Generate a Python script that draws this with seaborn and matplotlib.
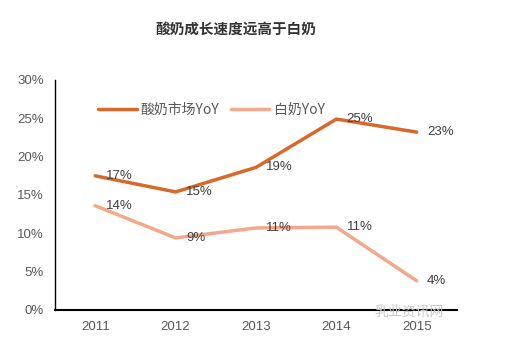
import pandas as pd
import seaborn as sns
import matplotlib.pyplot as plt
from matplotlib.ticker import PercentFormatter

years = ['2011', '2012', '2013', '2014', '2015']
yogurt = [17.5, 15.4, 18.6, 24.9, 23.2]
white_milk = [13.6, 9.4, 10.7, 10.8, 3.8]
yogurt_labels = ['17%', '15%', '19%', '25%', '23%']
white_labels = ['14%', '9%', '11%', '11%', '4%']
series_names = ['酸奶市场YoY', '白奶YoY']

sns.set_style('white')
plt.rcParams['font.family'] = ['Noto Sans CJK SC', 'DejaVu Sans']

df = pd.DataFrame({
    'year': years * 2,
    'value': yogurt + white_milk,
    'series': [series_names[0]] * 5 + [series_names[1]] * 5,
})
df['x'] = list(range(5)) * 2

fig = plt.figure(figsize=(5.24, 3.61), dpi=100)
ax = fig.add_axes([0.105, 0.1413, 0.767, 0.6371])

palette = {series_names[0]: '#D7692A', series_names[1]: '#F2A88A'}
sns.lineplot(data=df, x='x', y='value', hue='series', palette=palette,
             linewidth=2.5, ax=ax, sort=False)

for i in range(5):
    ax.text(i + 0.13, yogurt[i], yogurt_labels[i], fontsize=9.5, color='#404040',
            va='center', family='Liberation Sans')
    ax.text(i + 0.13, white_milk[i], white_labels[i], fontsize=9.5, color='#404040',
            va='center', family='Liberation Sans')

ax.set_xlim(-0.5, 4.5)
ax.set_ylim(0, 30)
ax.set_yticks(range(0, 31, 5))
ax.yaxis.set_major_formatter(PercentFormatter(decimals=0))
ax.set_xticks([i + 0.5 for i in range(-1, 5)], minor=False)
ax.set_xticklabels([])
ax.set_xticks(range(5), minor=True)
ax.set_xticklabels(years, minor=True)
ax.tick_params(axis='x', which='major', direction='in', length=4, width=1.2, color='black')
ax.tick_params(axis='x', which='minor', length=0, pad=8, labelsize=9.5, labelcolor='#595959')
ax.tick_params(axis='y', direction='in', length=3, width=1, color='black',
               labelsize=9.5, labelcolor='#595959', pad=8)
for lab in ax.get_xticklabels(minor=True) + ax.get_yticklabels():
    lab.set_family('Liberation Sans')

sns.despine(ax=ax)
ax.spines['left'].set_color('black')
ax.spines['left'].set_linewidth(1)
ax.spines['bottom'].set_color('black')
ax.spines['bottom'].set_linewidth(1.5)
ax.set_xlabel('')
ax.set_ylabel('')

ax.legend(loc='upper left', bbox_to_anchor=(0.075, 0.955), ncol=2, frameon=False,
          fontsize=10, handlelength=2.8, columnspacing=0.8, handletextpad=0.3,
          labelcolor='#595959')

fig.text(0.45, 0.92, '酸奶成长速度远高于白奶', ha='center', va='center',
         fontsize=10.5, fontweight='bold', color='#333333')
fig.text(0.715, 0.138, '乳业资讯网', fontsize=10, color='#C8C8C8', va='center')

fig.savefig('out.png', dpi=100)
